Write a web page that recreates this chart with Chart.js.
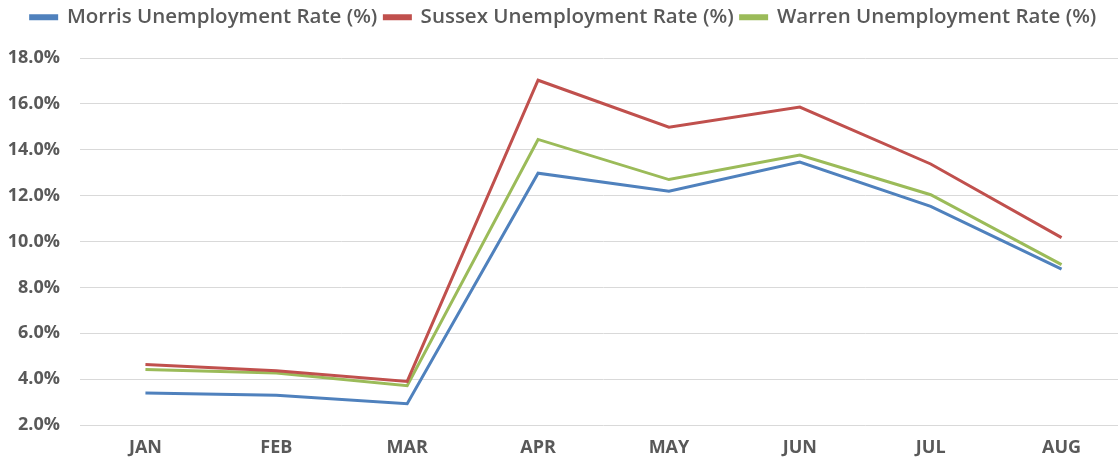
<!DOCTYPE html>
<html>
<head>
<meta charset="utf-8">
<script src="https://cdn.jsdelivr.net/npm/chart.js"></script>
<style>
  html, body { margin: 0; padding: 0; background: #fff; overflow: hidden; }
  #wrap { width: 1127px; height: 464px; }
</style>
</head>
<body>
<div id="wrap"><canvas id="rateChart"></canvas></div>
<script>
// months and rates
const months = ['JAN', 'FEB', 'MAR', 'APR', 'MAY', 'JUN', 'JUL', 'AUG'];
const morrisRate = [3.40, 3.30, 2.93, 12.98, 12.19, 13.46, 11.53, 8.80];
const sussexRate = [4.64, 4.36, 3.90, 17.03, 14.98, 15.86, 13.38, 10.17];
const warrenRate = [4.42, 4.27, 3.71, 14.45, 12.70, 13.77, 12.04, 8.99];
const yTicks = [2, 4, 6, 8, 10, 12, 14, 16, 18];

const labelGrey = '#595959';

// make the legend block a fixed height so the plot top lands on 18%
const legendHeight = {
    id: 'legendHeight',
    beforeInit(chart) {
        const origFit = chart.legend.fit;
        chart.legend.fit = function () {
            origFit.bind(chart.legend)();
            this.height = 58;
        };
    }
};

function makeSet(label, data, color) {
    return {
        label: label,
        data: data,
        borderColor: color,
        backgroundColor: color,
        borderWidth: 3,
        pointRadius: 0,
        tension: 0,
        fill: false
    };
}

const ctx = document.getElementById('rateChart').getContext('2d');
new Chart(ctx, {
    type: 'line',
    data: {
        labels: months,
        datasets: [
            makeSet('Morris Unemployment Rate (%)', morrisRate, '#4F81BD'),
            makeSet('Sussex Unemployment Rate (%)', sussexRate, '#C0504D'),
            makeSet('Warren Unemployment Rate (%)', warrenRate, '#9BBB59')
        ]
    },
    options: {
        responsive: true,
        maintainAspectRatio: false,
        animation: false,
        layout: { padding: 0 },
        plugins: {
            tooltip: { enabled: false },
            legend: {
                position: 'top',
                align: 'center',
                labels: {
                    boxWidth: 26,
                    boxHeight: 3,
                    padding: 7,
                    color: labelGrey,
                    font: { family: 'Open Sans', size: 20.5, weight: '600' }
                }
            }
        },
        scales: {
            x: {
                offset: true,
                grid: { display: false, drawTicks: false },
                border: { display: false },
                ticks: {
                    padding: 12,
                    color: labelGrey,
                    font: { family: 'Open Sans', size: 18, weight: 'bold' }
                },
                afterFit(scale) { scale.height = 39; }
            },
            y: {
                min: 2,
                max: 18,
                afterBuildTicks(scale) {
                    scale.ticks = yTicks.map(v => ({ value: v }));
                },
                grid: { color: '#d9d9d9', lineWidth: 1, drawTicks: false },
                border: { display: false },
                ticks: {
                    padding: 20,
                    color: labelGrey,
                    font: { family: 'Open Sans', size: 18, weight: 'bold' },
                    callback: v => v.toFixed(1) + '%'
                },
                afterFit(scale) { scale.width = 80; }
            }
        }
    },
    plugins: [legendHeight]
});
</script>
</body>
</html>
